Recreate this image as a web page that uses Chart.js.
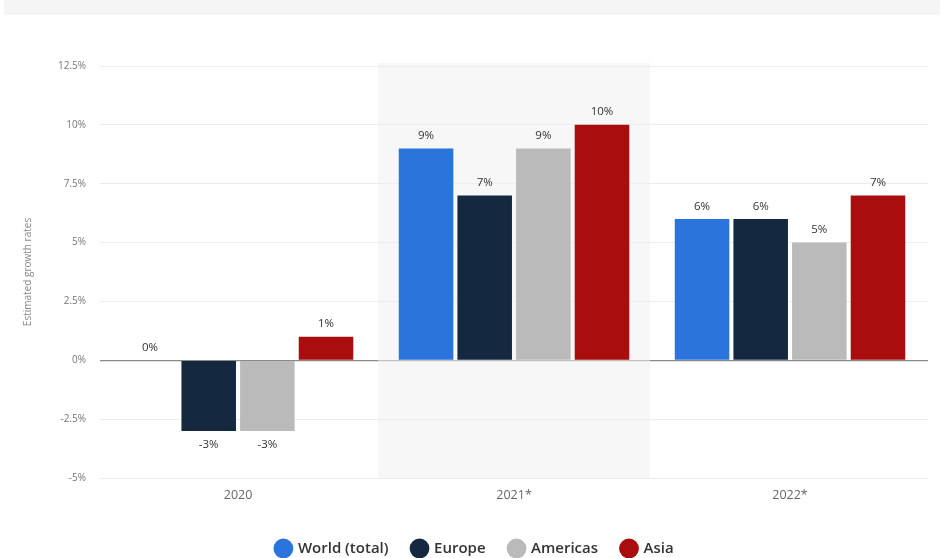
<!DOCTYPE html>
<html>
<head>
<title>Estimated growth rates</title>
<script src="https://cdn.jsdelivr.net/npm/chart.js"></script>
<style>
  body { margin: 0; background: #fff; }
  #topbar { position: absolute; left: 4px; top: 0; width: 936px; height: 15px; background: #f5f5f5; }
  #wrap { position: absolute; left: 0; top: 0; width: 944px; height: 558px; }
</style>
</head>
<body>
<div id="topbar"></div>
<div id="wrap"><canvas id="myChart"></canvas></div>
<script>
// categories and series
const years = ['2020', '2021*', '2022*'];
const world = [0, 9, 6];
const europe = [-3, 7, 6];
const americas = [-3, 9, 5];
const asia = [1, 10, 7];
const yTicks = [-5, -2.5, 0, 2.5, 5, 7.5, 10, 12.5];

// light band behind the forecast 2021* column
const bandPlugin = {
  id: 'band',
  beforeDatasetsDraw(chart) {
    const x = chart.scales.x, area = chart.chartArea, ctx = chart.ctx;
    const w = x.getPixelForValue(1) - x.getPixelForValue(0);
    const cx = x.getPixelForValue(1);
    ctx.save();
    ctx.fillStyle = 'rgba(240,240,240,0.55)';
    ctx.fillRect(cx - w / 2 + 2, area.top - 3, w - 4, area.bottom - area.top + 3);
    ctx.restore();
  }
};

// value labels on top / under each bar
const labelPlugin = {
  id: 'labels',
  afterDatasetsDraw(chart) {
    const ctx = chart.ctx;
    ctx.save();
    ctx.font = '11.5px "Open Sans"';
    ctx.fillStyle = '#333';
    ctx.textAlign = 'center';
    chart.data.datasets.forEach((ds, i) => {
      chart.getDatasetMeta(i).data.forEach((bar, j) => {
        const v = ds.data[j];
        if (v < 0) {
          ctx.textBaseline = 'top';
          ctx.fillText(v + '%', bar.x, bar.y + 8);
        } else {
          ctx.textBaseline = 'bottom';
          ctx.fillText(v + '%', bar.x, bar.y - 7);
        }
      });
    });
    ctx.restore();
  }
};

new Chart(document.getElementById('myChart'), {
  type: 'bar',
  data: {
    labels: years,
    datasets: [
      { label: 'World (total)', data: world, backgroundColor: '#2a74db' },
      { label: 'Europe', data: europe, backgroundColor: '#14293f' },
      { label: 'Americas', data: americas, backgroundColor: '#bababa' },
      { label: 'Asia', data: asia, backgroundColor: '#a90d0d' }
    ]
  },
  options: {
    responsive: true,
    maintainAspectRatio: false,
    animation: false,
    categoryPercentage: 0.85,
    barPercentage: 0.93,
    layout: { padding: { left: 22, right: 16, top: 66, bottom: -8 } },
    plugins: {
      tooltip: { enabled: false },
      legend: {
        position: 'bottom',
        labels: {
          usePointStyle: true,
          pointStyle: 'circle',
          boxWidth: 14,
          boxHeight: 14,
          padding: 24,
          color: '#333',
          font: { family: 'Open Sans', size: 15, weight: '600' }
        }
      }
    },
    scales: {
      x: {
        grid: { display: false },
        border: { display: false },
        afterFit(axis) { axis.height += 12; },
        ticks: { color: '#666', font: { family: 'Open Sans', size: 12.5 }, padding: 2 }
      },
      y: {
        min: -5,
        max: 12.5,
        afterBuildTicks(axis) { axis.ticks = yTicks.map(v => ({ value: v })); },
        border: { display: false },
        grid: {
          color: c => c.tick.value === 0 ? '#8a8a8a' : '#ececec',
          lineWidth: c => c.tick.value === 0 ? 1.2 : 1,
          drawTicks: false
        },
        ticks: {
          color: '#777',
          padding: 14,
          font: { family: 'Open Sans', size: 10 },
          callback: v => v + '%'
        },
        title: {
          display: true,
          text: 'Estimated growth rates',
          color: '#888',
          font: { family: 'Open Sans', size: 10 },
          padding: { top: 0, bottom: 10 }
        }
      }
    }
  },
  plugins: [bandPlugin, labelPlugin]
});
</script>
</body>
</html>
